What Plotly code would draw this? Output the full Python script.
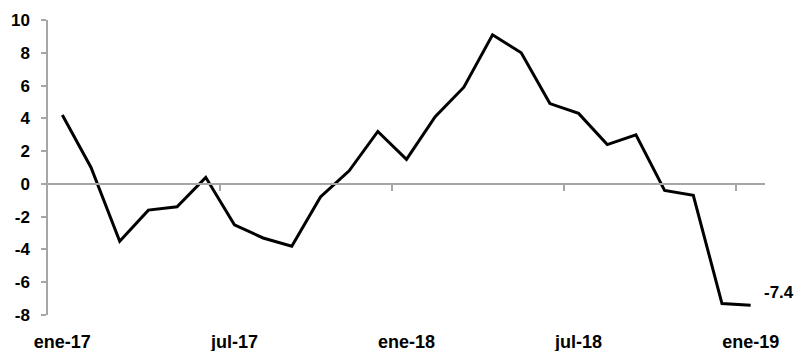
import plotly.graph_objects as go

months = ["ene-17", "feb-17", "mar-17", "abr-17", "may-17", "jun-17", "jul-17", "ago-17", "sep-17",
          "oct-17", "nov-17", "dic-17", "ene-18", "feb-18", "mar-18", "abr-18", "may-18", "jun-18",
          "jul-18", "ago-18", "sep-18", "oct-18", "nov-18", "dic-18", "ene-19"]
values = [4.2, 1.0, -3.5, -1.6, -1.4, 0.4, -2.5, -3.3, -3.8, -0.8, 0.8, 3.2, 1.5,
          4.1, 5.9, 9.1, 8.0, 4.9, 4.3, 2.4, 3.0, -0.4, -0.7, -7.3, -7.4]
label_months = ["ene-17", "jul-17", "ene-18", "jul-18", "ene-19"]
y_ticks = [10, 8, 6, 4, 2, 0, -2, -4, -6, -8]
last_label = "-7.4"

idx = list(range(len(months)))
label_pos = [months.index(m) for m in label_months]
boundary_pos = [p - 0.5 for p in label_pos[1:]]

FONT = "Liberation Sans, Arial, sans-serif"
GREY = "#a6a6a6"

fig = go.Figure()
fig.add_trace(go.Scatter(x=idx, y=values, mode="lines",
                         line=dict(color="black", width=3), showlegend=False,
                         hoverinfo="skip"))
fig.add_trace(go.Scatter(x=idx, y=values, mode="lines", xaxis="x2",
                         line=dict(color="rgba(0,0,0,0)", width=0), showlegend=False,
                         hoverinfo="skip"))

fig.add_annotation(x=idx[-1], y=values[-1], text="<b>%s</b>" % last_label,
                   showarrow=False, xanchor="left", yanchor="middle",
                   xshift=11, yshift=13, font=dict(family=FONT, size=17, color="black"))

yr = [-8, 10]
fig.update_layout(
    width=796, height=351,
    margin=dict(l=48, r=31, t=20, b=36, autoexpand=False),
    paper_bgcolor="white", plot_bgcolor="white",
    font=dict(family=FONT, size=17, color="black"),
    xaxis=dict(range=[-0.5, len(months) - 0.5], tickvals=label_pos,
               ticktext=["<b>%s</b>" % m for m in label_months],
               tickfont=dict(size=18),
               showline=False, showgrid=False, zeroline=False, ticks="",
               ticklabelstandoff=14, automargin=False),
    xaxis2=dict(range=[-0.5, len(months) - 0.5], overlaying="x", anchor="free",
                position=(0 - yr[0]) / (yr[1] - yr[0]),
                tickvals=boundary_pos, showticklabels=False,
                showline=True, linecolor=GREY, linewidth=1.5,
                ticks="outside", ticklen=6, tickcolor=GREY, tickwidth=1.5,
                showgrid=False, zeroline=False, automargin=False),
    yaxis=dict(range=yr, tickvals=y_ticks,
               ticktext=["<b>%d</b>" % v for v in y_ticks],
               showline=True, linecolor=GREY, linewidth=1.5,
               ticks="outside", ticklen=5, tickcolor=GREY, tickwidth=1.5,
               showgrid=False, zeroline=False, ticklabelstandoff=8, automargin=False),
)

fig.write_html("out.html")
